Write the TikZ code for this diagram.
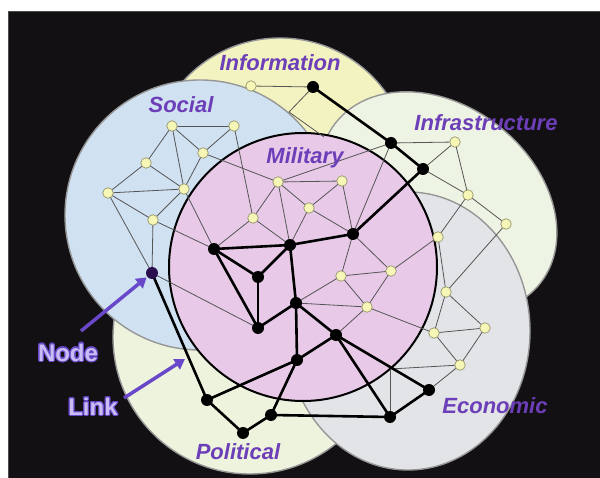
\documentclass[tikz,border=0pt]{standalone}
\usepackage{fontspec}
\setmainfont{Liberation Sans}
\usepackage{contour}
\contourlength{1.1pt}
\usetikzlibrary{calc,arrows.meta,backgrounds}

\definecolor{bgblack}{RGB}{18,16,18}
\definecolor{infofill}{RGB}{243,243,194}
\definecolor{socialfill}{RGB}{208,225,242}
\definecolor{infrafill}{RGB}{238,244,228}
\definecolor{econfill}{RGB}{226,228,232}
\definecolor{polfill}{RGB}{238,243,222}
\definecolor{milfill}{RGB}{232,202,232}
\definecolor{ringedge}{RGB}{150,150,150}
\definecolor{linkgray}{RGB}{85,85,85}
\definecolor{nodeyellow}{RGB}{246,246,182}
\definecolor{yedge}{RGB}{150,150,110}
\definecolor{labelpurple}{RGB}{108,62,184}
\definecolor{pointer}{RGB}{104,72,200}
\definecolor{pointerlight}{RGB}{200,190,244}
\definecolor{darknode}{RGB}{40,12,78}

\begin{document}
\begin{tikzpicture}[x=1pt,y=-1pt,
		ynode/.style={circle,draw=yedge,fill=nodeyellow,line width=0.7pt,minimum size=10.5pt,inner sep=0pt},
		bnode/.style={circle,fill=black,minimum size=12pt,inner sep=0pt},
		weak/.style={draw=linkgray,line width=0.8pt},
		strong/.style={draw=black,line width=2.6pt,line cap=round},
		ring/.style={draw=ringedge,line width=1.4pt},
		area/.style={text=labelpurple,font=\fontsize{22}{26}\selectfont\bfseries\itshape},
		marker/.style={text=pointerlight,font=\fontsize{24}{28}\selectfont\bfseries},
		callout/.style={draw=pointer,line width=3.5pt,-{Triangle[length=10pt,width=12pt]}}]
		
		\useasboundingbox (0,0) rectangle (600,478);
		
		\begin{pgfonlayer}{background}
			\fill[white] (0,0) rectangle (600,478);
			\filldraw[fill=bgblack,draw=gray!60!black] (8,11) rectangle (600,478);
			\filldraw[ring,fill=infofill] (280,168) circle [radius=130];
			\filldraw[ring,fill=polfill] (250,337) circle [radius=137];
			\filldraw[ring,fill=socialfill] (200,215) circle [radius=135];
			\filldraw[ring,fill=infrafill,rotate around={-38:(438,203)}] (438,203) ellipse [x radius=130,y radius=98];
			\filldraw[ring,fill=econfill] (408,331) ellipse [x radius=122,y radius=139];
			\filldraw[fill=milfill,draw=black,line width=2pt] (303,267) circle [radius=134];
		\end{pgfonlayer}
		
		\node (infolbl) at (280,63) [area] {Information};
		\node (sociallbl) at (181,105) [area] {Social};
		\node (millbl) at (305,158) [area] {Military};
		\node (infralbl) at (486,123) [area] {Infrastructure};
		\node (econlbl) at (495,406) [area] {Economic};
		\node (pollbl) at (238,452) [area] {Political};
		
		\foreach \n/\x/\y in {i1/251/86,
				s1/172/126,s2/234/126,s3/203/153,s4/146/163,s5/184/189,s6/108/193,s7/153/220,
				m1/278/182,m2/309/208,m3/253/218,m4/342/181,m5/341/276,m6/391/271,m7/367/307,
				f3/455/142,f4/468/195,f6/506/224,f5/438/237,
				e1/446/292,e2/485/328,e3/434/333,e4/460/365} {
			\node (\n) at (\x,\y) [ynode] {};
		}
		\foreach \n/\x/\y in {iblk/313/87,f1/391/143,f2/423/169,
				b1/214/249,b2/290/245,b3/258/277,b4/296/303,b5/353/234,b6/258/328,b7/336/335,
				b8/297/360,b9/429/390,b10/390/417,b11/271/415,b12/207/400,b13/243/433} {
			\node (\n) at (\x,\y) [bnode] {};
		}
		\node (nd) at (152,273) [bnode,fill=darknode] {};
		
		\coordinate (ia) at (289,112);
		\coordinate (ib) at (324,137);
		\coordinate (e0) at (390,369);
		
		\begin{pgfonlayer}{background}
			\foreach \a/\b in {i1/iblk,iblk/ia,ia/ib,
					s1/s2,s1/s3,s2/s3,s1/s4,s1/s5,s3/s5,s4/s5,s4/s6,s6/s5,s6/s7,s5/s7,s6/nd,s7/nd,
					s3/m1,s2/m3,s5/b1,s7/b1,nd/b6,
					m1/m4,m1/m3,m1/m2,m1/b2,m4/m2,m4/b5,m2/b2,m2/b5,m3/b1,m3/b2,
					b5/m5,b5/m6,m5/m6,m5/m7,m6/m7,m5/b4,b4/m7,m7/b7,m7/e3,m6/f5,m1/f1,
					f1/f3,f2/f3,f3/f4,f2/f4,f4/f6,f1/b5,f5/f4,f5/e1,f6/e1,
					e1/e2,e1/e3,e3/e2,e3/e4,e2/e4,e4/e0,e0/b10,e4/b9} {
				\draw[weak] (\a.center) -- (\b.center);
			}
			\foreach \a/\b in {iblk/f1,f1/f2,f2/b5,b5/b2,b2/b1,b1/b3,b2/b3,b3/b6,b1/b6,b6/b4,b2/b4,
					b4/b8,b4/b7,b8/b7,b8/b12,b8/b11,b11/b13,b13/b12,b11/b10,b7/b10,b7/b9,b9/b10,nd/b12} {
				\draw[strong] (\a.center) -- (\b.center);
			}
		\end{pgfonlayer}
		
		\node (nodelbl) at (68,353) [marker] {\contour{pointer}{Node}};
		\node (linklbl) at (93,407) [marker] {\contour{pointer}{Link}};
		\coordinate (nodetail) at (81,331);
		\coordinate (linktail) at (124,398);
		\coordinate (linkhit) at ($(nd)!0.66!(b12)$);
		\draw[callout,shorten >=7pt] (nodetail) -- (nd.center);
		\draw[callout,shorten >=4pt] (linktail) -- (linkhit);
		
	\end{tikzpicture}
\end{document}
